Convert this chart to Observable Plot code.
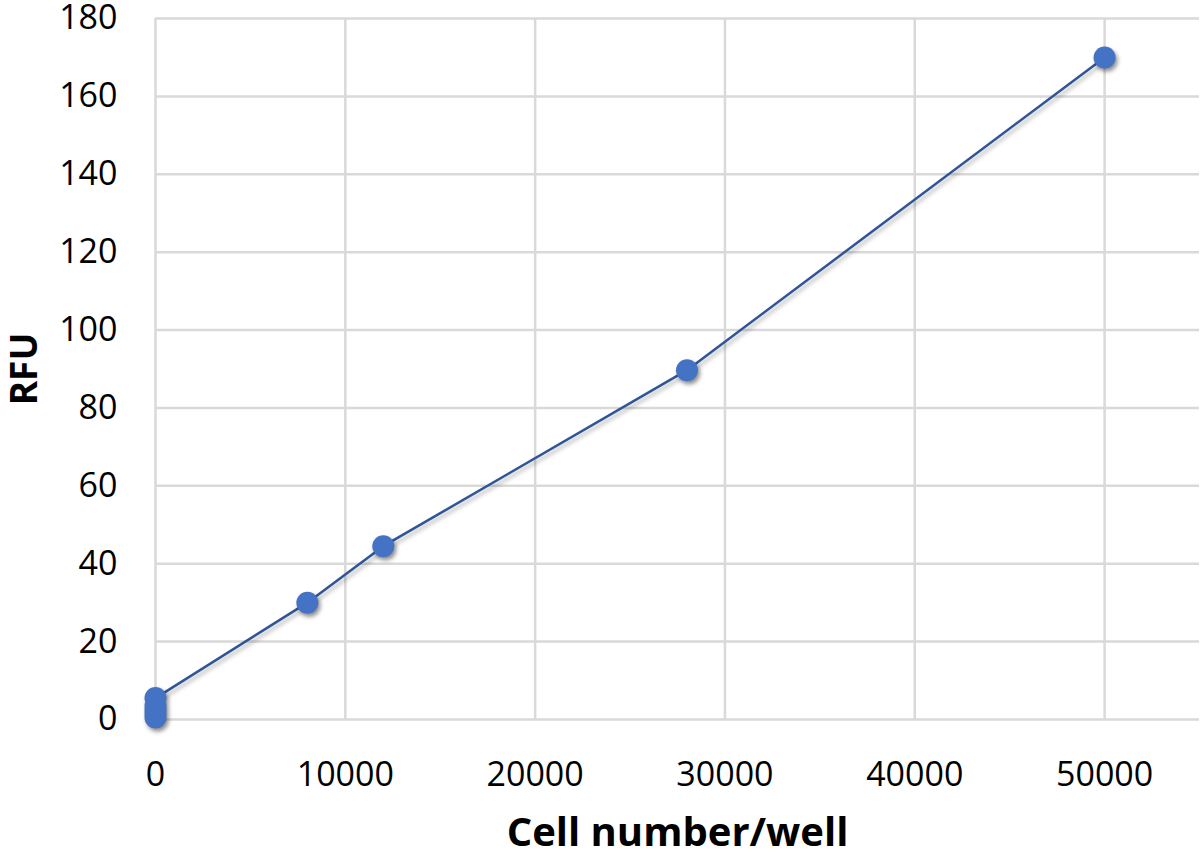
<!DOCTYPE html>
<html>
<head>
<meta charset="utf-8">
<script src="https://cdn.jsdelivr.net/npm/d3@7"></script>
<script src="https://cdn.jsdelivr.net/npm/@observablehq/plot@0.6"></script>
<style>
  html, body { margin: 0; padding: 0; background: #fff; }
  #chart svg { display: block; }
</style>
</head>
<body>
<div id="chart"></div>
<script>
// Data
const cellNumbers = [0, 0, 0, 0, 0, 8000, 12000, 28000, 50000];
const rfuValues   = [0.5, 1.5, 2.5, 3.5, 5.5, 30, 44.5, 89.7, 170];
const xTicks = [0, 10000, 20000, 30000, 40000, 50000];
const yTicks = [0, 20, 40, 60, 80, 100, 120, 140, 160, 180];
const xTitle = "Cell number/well";
const yTitle = "RFU";

const data = cellNumbers.map((x, i) => ({x, y: rfuValues[i]}));

const chart = Plot.plot({
  width: 1200,
  height: 859,
  marginLeft: 155,
  marginRight: 1,
  marginTop: 18,
  marginBottom: 140,
  style: {fontFamily: "Open Sans", fontSize: "34px", color: "#000", background: "#fff"},
  x: {domain: [0, 55000]},
  y: {domain: [0, 180]},
  marks: [
    Plot.gridX(xTicks, {stroke: "#d9d9d9", strokeOpacity: 1, strokeWidth: 2.5}),
    Plot.gridY(yTicks, {stroke: "#d9d9d9", strokeOpacity: 1, strokeWidth: 2.5}),
    Plot.axisX(xTicks, {tickSize: 0, tickPadding: 42, tickFormat: d => String(d), label: null, fill: "#000"}),
    Plot.axisY(yTicks, {tickSize: 0, tickPadding: 38, tickFormat: d => String(d), label: null, fill: "#000"}),
    Plot.line(data, {x: "x", y: "y", stroke: "#2f5597", strokeWidth: 2.5}),
    Plot.dot(data, {x: "x", y: "y", r: 11, fill: "#4472c4", stroke: "none"}),
    Plot.text([xTitle], {frameAnchor: "bottom", dy: 126, text: d => d, textAnchor: "middle", fontWeight: "bold", fontSize: 40, fill: "#000"}),
    Plot.text([yTitle], {frameAnchor: "left", dx: -130, rotate: -90, text: d => d, textAnchor: "middle", fontWeight: "bold", fontSize: 37, fill: "#000"})
  ]
});
document.getElementById("chart").appendChild(chart);
d3.select(chart).selectAll('g[aria-label="dot"]').style("filter", "drop-shadow(2px 3px 2px rgba(0,0,0,0.45))");
d3.select(chart).selectAll('g[aria-label="line"]').style("filter", "drop-shadow(2px 3px 2px rgba(0,0,0,0.3))");
</script>
</body>
</html>
